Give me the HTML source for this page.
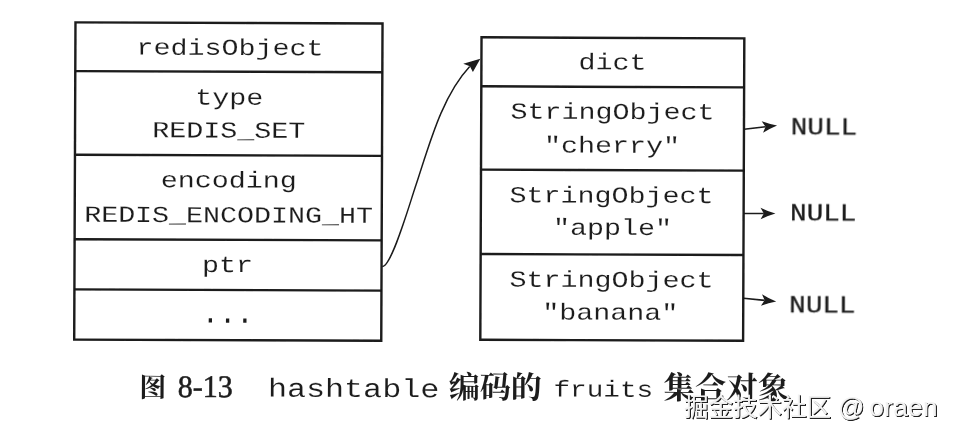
<!DOCTYPE html>
<html><head><meta charset="utf-8"><title>Figure 8-13</title>
<style>
html,body{margin:0;padding:0;background:#fff;}
body{width:954px;height:437px;overflow:hidden;font-family:"Liberation Sans",sans-serif;}
svg{display:block;}
</style></head>
<body>
<svg width="954" height="437" viewBox="0 0 954 437">
<rect width="954" height="437" fill="#ffffff"/>
<defs><filter id="sf" x="0" y="0" width="954" height="437" filterUnits="userSpaceOnUse"><feGaussianBlur stdDeviation="0.38"/></filter></defs>
<g filter="url(#sf)"><g transform="rotate(0.23 477.0 218.0)">
<g fill="none" stroke="#1a1a1a" stroke-width="2.4">
<rect x="74.7" y="23.95" width="307.05" height="317.25"/>
<path d="M74.7 72.7H381.75 M74.7 156.3H381.75 M74.7 240.8H381.75 M74.7 291.0H381.75"/>
</g>
<g fill="none" stroke="#1a1a1a" stroke-width="2.4">
<rect x="480.8" y="37.3" width="262.80" height="302.40"/>
<path d="M480.8 86.3H743.6 M480.8 169.6H743.6 M480.8 254.0H743.6"/>
</g>
<text transform="translate(229.35,55.89) scale(1.2319,1)" text-anchor="middle" xml:space="preserve" font-family="'Liberation Mono', monospace" font-size="23" fill="#1e1e1e" stroke="#fff" stroke-width="0.1">redisObject</text>
<text transform="translate(228.75,105.60) scale(1.2319,1)" text-anchor="middle" xml:space="preserve" font-family="'Liberation Mono', monospace" font-size="23" fill="#1e1e1e" stroke="#fff" stroke-width="0.1">type</text>
<text transform="translate(228.38,138.60) scale(1.2319,1)" text-anchor="middle" xml:space="preserve" font-family="'Liberation Mono', monospace" font-size="23" fill="#1e1e1e" stroke="#fff" stroke-width="0.1">REDIS_SET</text>
<text transform="translate(228.68,188.40) scale(1.2319,1)" text-anchor="middle" xml:space="preserve" font-family="'Liberation Mono', monospace" font-size="23" fill="#1e1e1e" stroke="#fff" stroke-width="0.1">encoding</text>
<text transform="translate(228.62,223.30) scale(1.2319,1)" text-anchor="middle" xml:space="preserve" font-family="'Liberation Mono', monospace" font-size="23" fill="#1e1e1e" stroke="#fff" stroke-width="0.1">REDIS_ENCODING_HT</text>
<text transform="translate(227.72,273.00) scale(1.2319,1)" text-anchor="middle" xml:space="preserve" font-family="'Liberation Mono', monospace" font-size="23" fill="#1e1e1e" stroke="#fff" stroke-width="0.1">ptr</text>
<text transform="translate(228.12,323.70) scale(0.9583,1)" text-anchor="middle" xml:space="preserve" font-family="'Liberation Mono', monospace" font-size="30" fill="#1e1e1e">...</text>
<text transform="translate(611.90,68.86) scale(1.2319,1)" text-anchor="middle" xml:space="preserve" font-family="'Liberation Mono', monospace" font-size="23" fill="#1e1e1e" stroke="#fff" stroke-width="0.1">dict</text>
<text transform="translate(612.00,118.36) scale(1.2319,1)" text-anchor="middle" xml:space="preserve" font-family="'Liberation Mono', monospace" font-size="23" fill="#1e1e1e" stroke="#fff" stroke-width="0.1">StringObject</text>
<text transform="translate(611.74,152.06) scale(1.2319,1)" text-anchor="middle" xml:space="preserve" font-family="'Liberation Mono', monospace" font-size="23" fill="#1e1e1e" stroke="#fff" stroke-width="0.1">&quot;cherry&quot;</text>
<text transform="translate(611.44,202.06) scale(1.2319,1)" text-anchor="middle" xml:space="preserve" font-family="'Liberation Mono', monospace" font-size="23" fill="#1e1e1e" stroke="#fff" stroke-width="0.1">StringObject</text>
<text transform="translate(612.47,234.26) scale(1.2319,1)" text-anchor="middle" xml:space="preserve" font-family="'Liberation Mono', monospace" font-size="23" fill="#1e1e1e" stroke="#fff" stroke-width="0.1">&quot;apple&quot;</text>
<text transform="translate(611.78,286.46) scale(1.2319,1)" text-anchor="middle" xml:space="preserve" font-family="'Liberation Mono', monospace" font-size="23" fill="#1e1e1e" stroke="#fff" stroke-width="0.1">StringObject</text>
<text transform="translate(610.61,319.06) scale(1.2319,1)" text-anchor="middle" xml:space="preserve" font-family="'Liberation Mono', monospace" font-size="23" fill="#1e1e1e" stroke="#fff" stroke-width="0.1">&quot;banana&quot;</text>
<text transform="translate(790.56,133.44) scale(1.2,1)" font-family="'Liberation Mono', monospace" font-size="23" fill="#1e1e1e" stroke="#1e1e1e" stroke-width="0.3">NULL</text>
<text transform="translate(790.11,219.44) scale(1.2,1)" font-family="'Liberation Mono', monospace" font-size="23" fill="#1e1e1e" stroke="#1e1e1e" stroke-width="0.3">NULL</text>
<text transform="translate(789.58,311.45) scale(1.2,1)" font-family="'Liberation Mono', monospace" font-size="23" fill="#1e1e1e" stroke="#1e1e1e" stroke-width="0.3">NULL</text>
<path d="M743.8 128.1L765.2 125.6" stroke="#1a1a1a" stroke-width="1.6"/>
<path d="M776.7 124.2Q769.1 123.1 761.3 120.2L765.2 125.6L762.7 131.7Q769.6 127.1 776.7 124.2Z" fill="#1a1a1a"/>
<path d="M744.0 212.4L763.8 212.3" stroke="#1a1a1a" stroke-width="1.6"/>
<path d="M775.4 212.2Q768.0 210.3 760.5 206.5L763.8 212.3L760.6 218.1Q768.0 214.3 775.4 212.2Z" fill="#1a1a1a"/>
<path d="M743.9 297.2L765.0 299.2" stroke="#1a1a1a" stroke-width="1.6"/>
<path d="M776.5 300.3Q769.4 297.6 762.3 293.1L765.0 299.2L761.3 304.7Q769.0 301.6 776.5 300.3Z" fill="#1a1a1a"/>
<path d="M382.5 266.8C391.7 267.3 409.3 204.7 415.9 185.0C428.7 146.5 440.9 97.0 469.1 66.5" fill="none" stroke="#1a1a1a" stroke-width="1.45"/>
<path d="M479.7 58.7L462.7 63.9L469.3 66.3L472.3 72.0Z" fill="#1a1a1a"/>
<text x="140" y="398" font-family="'Liberation Serif', 'Noto Serif CJK SC', serif" font-size="27" font-weight="bold" fill="#1e1e1e">图</text>
<text transform="translate(178.52,398.10) scale(1,1.045)" font-family="'Liberation Serif', serif" font-size="30" fill="#1e1e1e" stroke="#1e1e1e" stroke-width="0.55">8-13</text>
<text transform="translate(354.32,397.39) scale(1.2212,1)" text-anchor="middle" xml:space="preserve" font-family="'Liberation Mono', monospace" font-size="26" fill="#1e1e1e" stroke="#fff" stroke-width="0.1">hashtable</text>
<text x="449.5" y="398" font-family="'Liberation Serif', 'Noto Serif CJK SC', serif" font-size="31" font-weight="bold" fill="#1e1e1e">编码的</text>
<text transform="translate(604.02,396.09) scale(1.2029,1)" text-anchor="middle" xml:space="preserve" font-family="'Liberation Mono', monospace" font-size="23" fill="#1e1e1e" stroke="#fff" stroke-width="0.1">fruits</text>
<text x="664" y="398" font-family="'Liberation Serif', 'Noto Serif CJK SC', serif" font-size="31.5" font-weight="bold" fill="#1e1e1e">集合对象</text>
</g></g>
<defs><filter id="ws" x="-5%" y="-30%" width="110%" height="160%"><feGaussianBlur in="SourceAlpha" stdDeviation="0.5" result="b"/><feOffset in="b" dx="1.25" dy="1.25" result="o"/><feComponentTransfer in="o" result="s"><feFuncA type="linear" slope="1.5" intercept="0"/></feComponentTransfer><feFlood flood-color="#222" result="c"/><feComposite in="c" in2="s" operator="in" result="sh"/><feMerge result="m"><feMergeNode in="sh"/><feMergeNode in="SourceGraphic"/></feMerge><feGaussianBlur in="m" stdDeviation="0.3"/></filter></defs>
<g filter="url(#ws)" fill="#f2f2f2">
<text x="684" y="415.5" font-family="'Liberation Sans', 'Noto Sans CJK SC', sans-serif" font-size="24.5" fill="#f2f2f2">掘金技术社区</text>
<text x="838.1" y="415.9" font-family="'Liberation Sans', sans-serif" font-size="26">@</text>
<text x="869.2" y="416.2" font-family="'Liberation Sans', sans-serif" font-size="26" letter-spacing="0.45">oraen</text>
</g>
</svg>
</body></html>
